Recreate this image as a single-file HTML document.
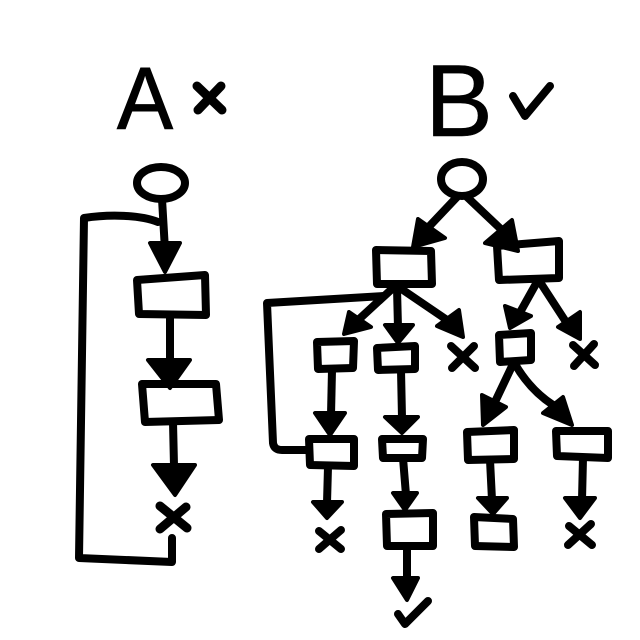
<!DOCTYPE html>
<html>
<head>
<meta charset="utf-8">
<style>
  html, body { margin:0; padding:0; background:#fff; }
  svg { display:block; }
  text { font-family: "Liberation Sans", sans-serif; }
</style>
</head>
<body>
<svg width="640" height="640" viewBox="0 0 640 640" xmlns="http://www.w3.org/2000/svg">
  <rect width="640" height="640" fill="#fff"/>

  <!-- Titles -->
  <text x="117" y="129" font-size="88" fill="#000" stroke="#000" stroke-width="1" textLength="56" lengthAdjust="spacingAndGlyphs">A</text>
  <text x="425" y="136" font-size="102" fill="#000" stroke="#000" stroke-width="0.5">B</text>

  <g fill="none" stroke="#000" stroke-linecap="round" stroke-linejoin="round">
    <!-- A x -->
    <path d="M197,86 L222,110 M221,86 L198,110" stroke-width="9"/>
    <!-- B check -->
    <path d="M513,96 L525,116 L550,86" stroke-width="8"/>

    <!-- ===== A diagram ===== -->
    <ellipse cx="161" cy="183" rx="24" ry="16" stroke-width="8"/>
    <path d="M162,199 L165,250" stroke-width="8"/>
    <path d="M158,222 C140,215 110,214 84,218 L79,558 L172,562 L172,538" stroke-width="8"/>
    <path d="M170,317 L170,362" stroke-width="8"/>
    <path d="M173,422 L174,466" stroke-width="8"/>
    <path d="M160,506 L187,528 M186,507 L160,529" stroke-width="9"/>

    <!-- ===== B diagram ===== -->
    <ellipse cx="462" cy="179" rx="21" ry="17" stroke-width="8"/>
    <path d="M457,197 L422,234" stroke-width="8"/>
    <path d="M467,197 L505,233" stroke-width="8"/>

    <!-- from L1 -->
    <path d="M393,288 L356,322" stroke-width="8"/>
    <path d="M397,288 L398,328" stroke-width="8"/>
    <path d="M400,288 L450,322" stroke-width="8"/>
    <path d="M384,296 L267,303 L273,443 Q274,450 282,450 L308,450" stroke-width="8"/>

    <!-- X after L2b -->
    <path d="M451,346 L475,368 M474,346 L452,368" stroke-width="8"/>
    <!-- X right -->
    <path d="M573,345 L595,365 M594,344 L574,366" stroke-width="8"/>

    <!-- from R1 -->
    <path d="M537,282 L518,316" stroke-width="8"/>
    <path d="M540,282 L566,322" stroke-width="8"/>

    <!-- from R2a -->
    <path d="M513,364 L494,404" stroke-width="8"/>
    <path d="M515,364 Q530,390 553,405" stroke-width="8"/>

    <!-- column 1 -->
    <path d="M332,370 L331,415" stroke-width="8"/>
    <path d="M328,467 L327,503" stroke-width="8"/>
    <path d="M319,531 L341,549 M341,530 L319,549" stroke-width="8"/>

    <!-- column 2 -->
    <path d="M401,370 L402,418" stroke-width="8"/>
    <path d="M403,458 L406,495" stroke-width="8"/>
    <path d="M407,547 L407,580" stroke-width="8"/>
    <path d="M398,614 L405,624 L428,601" stroke-width="8"/>

    <!-- column 3/4 -->
    <path d="M490,460 L492,500" stroke-width="8"/>
    <path d="M583,458 L582,500" stroke-width="8"/>
    <path d="M569,526 L592,545 M591,524 L568,545" stroke-width="8"/>
  </g>

  <!-- Boxes -->
  <g fill="#fff" stroke="#000" stroke-width="8" stroke-linejoin="round">
    <polygon points="137,280 205,275 206,315 139,314"/>
    <polygon points="142,384 216,384 219,420 145,422"/>

    <polygon points="376,250 431,251 432,284 377,284"/>
    <polygon points="497,246 559,241 559,278 499,280"/>
    <polygon points="317,342 354,341 353,368 318,369"/>
    <polygon points="377,348 415,346 415,369 378,370"/>
    <polygon points="499,335 531,333 531,360 500,362"/>
    <polygon points="309,439 354,439 354,466 310,465"/>
    <polygon points="382,439 423,439 422,458 383,458"/>
    <polygon points="386,514 433,513 433,546 387,546"/>
    <polygon points="467,432 514,430 514,459 468,460"/>
    <polygon points="474,517 513,519 514,547 475,546"/>
    <polygon points="556,431 608,431 608,458 557,456"/>
  </g>

  <!-- Arrowheads -->
  <g fill="#000" stroke="#000" stroke-width="4" stroke-linejoin="round">
    <polygon points="150,243 180,243 165,272"/>
    <polygon points="148,360 190,360 170,388"/>
    <polygon points="153,465 195,465 175,495"/>

    <polygon points="418,219 445,238 413,247"/>
    <polygon points="512,220 518,251 485,243"/>
    <polygon points="349,312 371,327 344,334"/>
    <polygon points="385,325 413,325 398,343"/>
    <polygon points="437,326 459,310 463,337"/>
    <polygon points="505,306 531,316 510,328"/>
    <polygon points="558,327 580,312 580,339"/>
    <polygon points="482,395 506,407 483,425"/>
    <polygon points="543,413 563,397 572,425"/>
    <polygon points="315,413 345,413 330,435"/>
    <polygon points="313,502 342,502 327,518"/>
    <polygon points="385,417 418,417 402,433"/>
    <polygon points="393,493 417,493 405,510"/>
    <polygon points="393,578 418,578 407,600"/>
    <polygon points="478,498 507,498 493,514"/>
    <polygon points="565,498 595,498 580,518"/>
  </g>
</svg>
</body>
</html>
